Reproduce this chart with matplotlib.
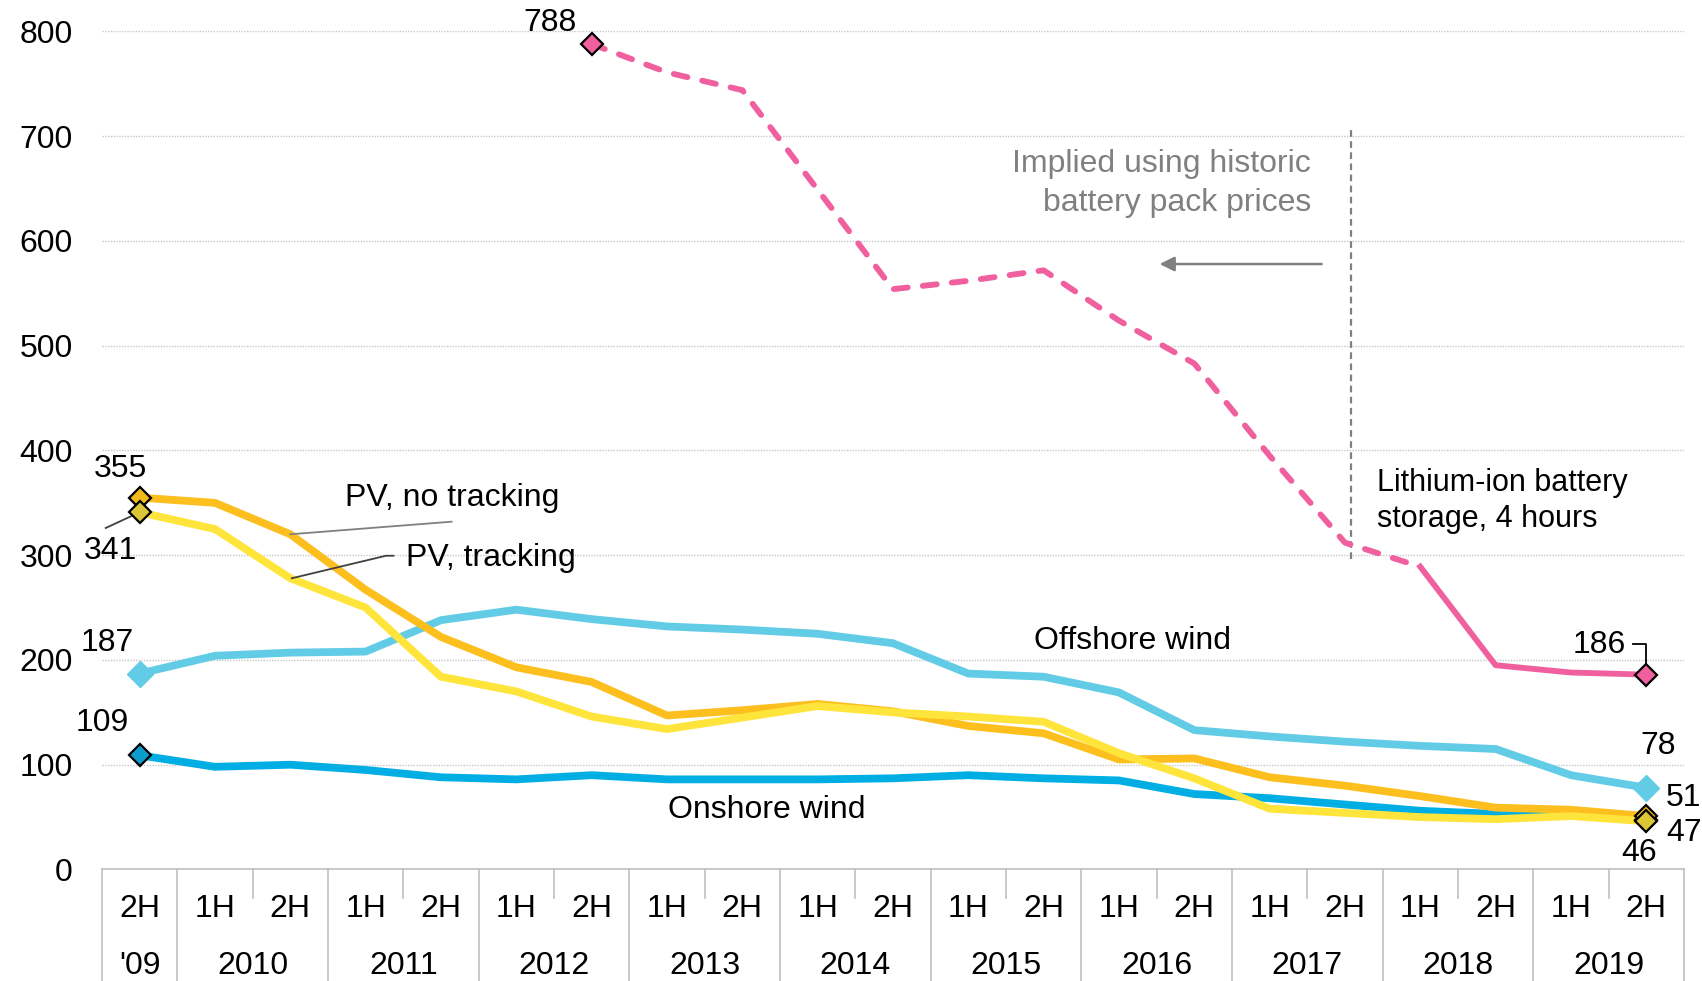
"""
LCOE benchmarks 2H'09 - 2H'19: PV, wind and Li-ion battery storage.
"""
import matplotlib
matplotlib.use("Agg")
import matplotlib.pyplot as plt
import numpy as np

plt.rcParams["font.family"] = ["Liberation Sans", "DejaVu Sans"]

# --- data ---
halves = ["2H"] + ["1H", "2H"] * 10
years = ["'09", "2010", "2011", "2012", "2013", "2014",
         "2015", "2016", "2017", "2018", "2019"]

offshore = [187, 204, 207, 208, 238, 248, 239, 232, 229, 225, 216,
            187, 184, 169, 133, 127, 122, 118, 115, 90, 78]
pv_fixed = [355, 350, 320, 267, 222, 193, 179, 147, 152, 158, 151,
            137, 130, 105, 106, 88, 80, 70, 59, 57, 51]
pv_tracking = [341, 325, 278, 250, 184, 170, 146, 134, 145, 156, 150,
               146, 141, 111, 87, 58, 54, 50, 48, 51, 46]
onshore = [109, 98, 100, 95, 88, 86, 90, 86, 86, 86, 87,
           90, 87, 85, 72, 68, 62, 56, 53, 52, 47]
battery = [788, 761, 744, 649, 554, 562, 572, 524, 483, 395, 312,
           289, 195, 188, 186]
battery_start = 6      # 2H 2012
battery_actual = 17    # 1H 2018: first point that isn't implied

C_OFF = "#62CBE6"
C_ON = "#00AEE3"
C_PVF = "#FDBF1E"
C_PVT = "#FFE53B"
C_BAT = "#F0609F"
GREY = "#808080"
FS = 23

x = np.arange(len(halves))
xb = np.arange(battery_start, battery_start + len(battery))

fig = plt.figure(figsize=(17.02, 9.81), dpi=100)
ax = fig.add_axes([0.0599, 0.1137, 0.9295, 0.8542])

lw = 5.6
ax.plot(x, offshore, color=C_OFF, lw=lw, solid_joinstyle="round", zorder=3)
ax.plot(x, onshore, color=C_ON, lw=lw, solid_joinstyle="round", zorder=3)
ax.plot(x, pv_fixed, color=C_PVF, lw=lw, solid_joinstyle="round", zorder=4)
ax.plot(x, pv_tracking, color=C_PVT, lw=lw, solid_joinstyle="round", zorder=4)

k = battery_actual - battery_start
ax.plot(xb[:k + 1], battery[:k + 1], color=C_BAT, lw=4.2, ls=(0, (2.4, 2.6)),
        dash_capstyle="round", zorder=3)
ax.plot(xb[k:], battery[k:], color=C_BAT, lw=4.2, solid_joinstyle="round", zorder=3)

# end markers
mk = dict(marker="D", ms=11.5, mec="black", mew=1.6, ls="none", zorder=6)
ax.plot([x[0], x[-1]], [onshore[0], onshore[-1]], mfc="#0C9BCB", **mk)
ax.plot([x[0], x[-1]], [pv_fixed[0], pv_fixed[-1]], mfc="#F2B91A", **mk)
ax.plot([x[0], x[-1]], [pv_tracking[0], pv_tracking[-1]], mfc="#DBC636", **mk)
ax.plot([xb[0], xb[-1]], [battery[0], battery[-1]], mfc=C_BAT, **mk)
ax.plot([x[0], x[-1]], [offshore[0], offshore[-1]], marker="D", ms=13,
        mfc=C_OFF, mec=C_OFF, ls="none", zorder=6)

# axes styling
ax.set_xlim(-0.5, len(halves) - 0.5)
ax.set_ylim(0, 800)
ax.set_yticks(range(0, 801, 100))
ax.tick_params(axis="y", length=0, pad=21, labelsize=FS)
ax.set_xticks([])
ax.yaxis.grid(True, color="#C8C8C8", ls=(0, (1, 1)), lw=1)
for s in ["top", "right", "left"]:
    ax.spines[s].set_visible(False)
ax.spines["bottom"].set_color("#BFBFBF")
ax.spines["bottom"].set_linewidth(1.2)

# category table under the axis
tr = ax.get_xaxis_transform()
for i, h in enumerate(halves):
    ax.text(x[i], -0.047, h, transform=tr, ha="center", va="center", fontsize=FS)
year_centres = [0] + [2 * j - 0.5 for j in range(1, len(years))]
for xc, y in zip(year_centres, years):
    ax.text(xc, -0.115, y, transform=tr, ha="center", va="center", fontsize=FS)
year_edges = [-0.5] + [2 * j + 0.5 for j in range(len(years))]
for xe in year_edges:
    ax.plot([xe, xe], [0, -0.135], transform=tr, color="#BFBFBF", lw=1.2,
            clip_on=False)
for j in range(1, len(years)):
    xe = 2 * j - 0.5
    ax.plot([xe, xe], [0, -0.034], transform=tr, color="#BFBFBF", lw=1.2,
            clip_on=False)

# value labels
lab = dict(fontsize=FS, ha="center", va="center", zorder=7)
ax.text(-0.26, 382, "355", **lab)
ax.text(-0.39, 304, "341", **lab)
ax.plot([-0.45, 0], [326, 341], color="#404040", lw=1.3, zorder=5)
ax.text(-0.43, 216, "187", **lab)
ax.text(-0.49, 140, "109", **lab)
ax.text(5.45, 808, "788", clip_on=False, **lab)
ax.text(19.37, 214, "186", **lab)
ax.plot([19.83, 20.0, 20.0], [215, 215, 192], color="black", lw=1.3, zorder=5)
ax.text(20.16, 118, "78", **lab)
ax.text(20.5, 68, "51", clip_on=False, **lab)
ax.text(20.5, 35, "47", clip_on=False, **lab)
ax.text(19.9, 16, "46", **lab)

# series annotations
ax.text(2.72, 355, "PV, no tracking", fontsize=FS, va="center")
ax.plot([2.0, 4.14], [320, 332], color=GREY, lw=1.3, zorder=5)
ax.text(3.53, 297, "PV, tracking", fontsize=FS, va="center")
ax.plot([2.02, 3.27, 3.37], [278, 299.5, 299.5], color="#404040", lw=1.3, zorder=5)
ax.text(13.18, 218, "Offshore wind", fontsize=FS, ha="center", va="center")
ax.text(8.33, 57, "Onshore wind", fontsize=FS, ha="center", va="center")

ax.text(15.55, 655, "Implied using historic\nbattery pack prices", fontsize=FS,
        color=GREY, ha="right", va="center", linespacing=1.42, multialignment="right")
ax.annotate("", xy=(13.54, 578), xytext=(15.69, 578),
            arrowprops=dict(arrowstyle="-|>", color=GREY, lw=1.8,
                            mutation_scale=22, shrinkA=0, shrinkB=0))
ax.plot([16.08, 16.08], [296, 710], color=GREY, lw=1.6, ls=(0, (3, 2)), zorder=2)
ax.text(16.43, 352, "Lithium-ion battery\nstorage, 4 hours", fontsize=22,
        ha="left", va="center", linespacing=1.28)

fig.savefig("out.png", dpi=100)
